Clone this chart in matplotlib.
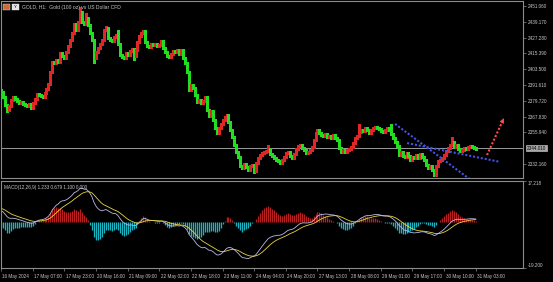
import numpy as np
import matplotlib
matplotlib.use("Agg")
import matplotlib.pyplot as plt
import matplotlib.transforms as mtransforms
from matplotlib.patches import Rectangle

plt.rcParams['font.family'] = ['Liberation Sans', 'DejaVu Sans']

# ---------------- data ----------------
symbol_title = "GOLD, H1:  Gold (100 oz) vs US Dollar CFD"
macd_title = "MACD(12,26,9) 1.233 0.679 1.100 0.000"

first_open = 2387.9
closes = [
    2386.4, 2382.6, 2376.6, 2372.8, 2375.8, 2380.3, 2382.6, 2381.1, 2379.6, 2378.1,
    2378.8, 2377.3, 2376.6, 2375.8, 2377.3, 2374.3, 2378.1, 2381.1, 2384.8, 2384.1,
    2383.3, 2382.6, 2385.6, 2388.6, 2392.4, 2401.4, 2408.9, 2408.2, 2410.4, 2408.9,
    2415.7, 2413.4, 2411.9, 2416.5, 2421.0, 2425.5, 2430.7, 2437.5, 2433.0, 2439.0,
    2446.6, 2439.0, 2437.5, 2442.0, 2436.8, 2430.7, 2425.5, 2411.9, 2416.5, 2419.5,
    2422.5, 2425.5, 2433.0, 2434.5, 2427.0, 2425.5, 2424.7, 2427.7, 2429.2, 2422.5,
    2414.2, 2412.7, 2411.9, 2415.7, 2414.2, 2417.2, 2418.7, 2413.4, 2418.0, 2424.0,
    2428.5, 2430.7, 2432.3, 2424.0, 2421.0, 2420.2, 2422.5, 2421.7, 2422.5, 2421.0,
    2421.7, 2424.7, 2419.5, 2416.5, 2413.4, 2412.7, 2414.9, 2417.2, 2416.5, 2418.0,
    2414.9, 2418.0, 2411.9, 2408.2, 2401.4, 2387.9, 2391.6, 2389.4, 2384.1, 2378.8,
    2380.3, 2378.1, 2379.6, 2382.6, 2372.8, 2368.3, 2372.0, 2365.3, 2359.2, 2355.5,
    2359.2, 2362.3, 2365.3, 2367.5, 2369.0, 2363.8, 2357.8, 2352.5, 2346.5, 2341.2,
    2337.4, 2330.7, 2329.2, 2332.2, 2329.9, 2327.7, 2330.7, 2331.4, 2326.9, 2332.9,
    2336.7, 2338.9, 2340.4, 2341.2, 2341.9, 2343.5, 2339.7, 2338.2, 2336.7, 2335.2,
    2334.4, 2332.9, 2335.2, 2337.4, 2340.4, 2341.2, 2338.2, 2336.7, 2339.7, 2343.5,
    2345.7, 2346.5, 2344.2, 2342.7, 2340.4, 2341.2, 2342.7, 2344.9, 2350.2, 2355.5,
    2357.8, 2355.5, 2354.0, 2353.2, 2354.7, 2352.5, 2353.2, 2351.7, 2354.0, 2351.7,
    2350.2, 2344.2, 2341.2, 2342.7, 2341.2, 2342.7, 2343.5, 2344.9, 2347.9, 2351.7,
    2353.2, 2356.2, 2357.8, 2357.0, 2359.2, 2357.8, 2355.5, 2357.8, 2359.2, 2360.0,
    2359.2, 2358.5, 2357.0, 2356.2, 2357.8, 2359.2, 2357.8, 2354.7, 2351.7, 2348.7,
    2345.7, 2338.9, 2341.2, 2338.2, 2337.4, 2340.4, 2338.2, 2335.2, 2337.4, 2336.7,
    2338.9, 2336.7, 2339.7, 2337.4, 2335.2, 2331.4, 2329.2, 2330.7, 2327.7, 2323.9,
    2330.7, 2334.4, 2335.2, 2336.7, 2338.9, 2341.9, 2344.2, 2346.5, 2348.7, 2344.9,
    2346.5, 2343.5, 2341.9, 2342.7, 2344.2, 2343.5, 2344.9, 2345.7, 2344.9, 2344.2,
    2344.01,
]
typical_wick = 1.0
high_overrides = {40: 2450.3, 43: 2445.8, 53: 2436.0, 59: 2433.0, 72: 2433.0,
                  135: 2346.5, 181: 2362.2, 197: 2362.2, 228: 2352.5}
low_overrides = {3: 2371.3, 47: 2408.2, 67: 2410.4, 125: 2326.9, 128: 2325.4,
                 219: 2322.9}

price_ticks = [2451.06, 2439.17, 2427.28, 2415.39, 2403.50, 2391.61,
               2379.72, 2367.83, 2355.94, 2332.16]
current_price = 2344.01

macd_range = (-19.200, 17.218)
ema_fast_seed = 2384.0
ema_slow_seed = 2379.0
signal_seed = 6.0
hist_gain = 2.0

time_labels = ['16 May 2024', '17 May 07:00', '17 May 23:00', '20 May 16:00',
               '21 May 09:00', '22 May 02:00', '22 May 18:00', '23 May 11:00',
               '24 May 04:00', '24 May 20:00', '27 May 13:00', '28 May 08:00',
               '29 May 01:00', '29 May 17:00', '30 May 10:00', '31 May 03:00']
time_label_bars = [0, 16, 32, 48, 64, 80, 96, 112, 128, 144, 160, 176,
                   192, 208, 224, 240]

# drawn objects (bar index, price)
trend_steep = [(199.2, 2362.3), (240.0, 2317.4)]
trend_flat = [(205.3, 2347.9), (252.3, 2333.7)]
arrow_up = [(245.7, 2338.9), (254.8, 2368.5)]

# ---------------- derived ----------------
closes = np.array(closes)
n = len(closes)
opens = np.concatenate([[first_open], closes[:-1]])
xs = np.arange(n)
highs = np.maximum(opens, closes) + typical_wick
lows = np.minimum(opens, closes) - typical_wick
for k, v in high_overrides.items():
    highs[k] = v
for k, v in low_overrides.items():
    lows[k] = v


def ema(values, start, span):
    a = 2.0 / (span + 1)
    out = []
    e = start
    for v in values:
        e = e + a * (v - e)
        out.append(e)
    return np.array(out)


macd = ema(closes, ema_fast_seed, 12) - ema(closes, ema_slow_seed, 26)
signal = ema(macd, signal_seed, 9)
hist = (macd - signal) * hist_gain

# ---------------- styling ----------------
W, H = 553, 282
BG = 'black'
FRAME = '#8c8c8c'
TXT = '#c8c8c8'
UP = (0.88, 0.15, 0.15)
DOWN = (0.13, 0.87, 0.13)
H_UP = (0.72, 0.12, 0.12)
H_DN = (0.10, 0.70, 0.76)
FS = 3.3

fig = plt.figure(figsize=(W / 100, H / 100), dpi=100, facecolor=BG)
ax = fig.add_axes([1 / W, 1 - 178 / H, 522 / W, 177 / H], facecolor=BG)
axm = fig.add_axes([1 / W, 1 - 268 / H, 522 / W, 87 / H], facecolor=BG, sharex=ax)

px_per_bar = 1.98
x0 = (1 - 0.5) / px_per_bar
x1 = (523 - 0.5) / px_per_bar
ax.set_xlim(x0, x1)
ax.set_ylim(2321.6, 2454.8)
axm.set_ylim(*macd_range)

for a in (ax, axm):
    for s in a.spines.values():
        s.set_color(FRAME)
        s.set_linewidth(0.8)

# candles
up = closes >= opens
col = [UP if u else DOWN for u in up]
ax.vlines(xs, lows, highs, colors=col, linewidth=0.8, antialiased=False)

# current price line
ax.axhline(current_price, color='#9a9a9a', lw=0.7, zorder=1)

# trend lines
for line in (trend_steep, trend_flat):
    (xa, ya), (xb, yb) = line
    ax.plot([xa, xb], [ya, yb], color='#4652e6', lw=1.5, ls=(0, (1, 0.9)),
            solid_capstyle='butt', zorder=5)
(xa, ya), (xb, yb) = arrow_up
ax.plot([xa, xa + (xb - xa) * 0.88], [ya, ya + (yb - ya) * 0.88], color='#ff4a4a',
        lw=1.5, ls=(0, (1, 0.9)), zorder=5)
ax.annotate('', xy=(xb, yb), xytext=(xa + (xb - xa) * 0.8, ya + (yb - ya) * 0.8),
            arrowprops=dict(arrowstyle='-|>', color='#ff4a4a', lw=0.5,
                            mutation_scale=7), zorder=6)

# price axis
ax.yaxis.tick_right()
ax.set_yticks(price_ticks)
ax.set_yticklabels([f"{v:.3f}" for v in price_ticks])
ax.tick_params(axis='y', colors=FRAME, labelcolor=TXT, labelsize=FS, length=2,
               width=0.5, pad=1.5)
ax.tick_params(axis='x', bottom=False, labelbottom=False)

# current price box
trans = mtransforms.blended_transform_factory(ax.transAxes, ax.transData)
ax.text(1.0 + 4 / 522, current_price, f"{current_price:.3f}", transform=trans,
        ha='left', va='center', fontsize=FS, color='black', clip_on=False,
        bbox=dict(boxstyle='square,pad=0.15', fc='#a8a8a8', ec='#d0d0d0', lw=0.4))

# MACD pane
hcol = [H_UP if h >= 0 else H_DN for h in hist]
axm.vlines(xs, 0, hist, colors=hcol, linewidth=0.95)
axm.plot(xs, macd, color='#b8b8ea', lw=0.6)
axm.plot(xs, signal, color='#e8d43c', lw=0.6)
axm.yaxis.tick_right()
axm.set_yticks(list(macd_range))
axm.set_yticklabels([f"{v:.3f}" for v in macd_range])
axm.tick_params(axis='y', colors=FRAME, labelcolor=TXT, labelsize=FS, length=2,
                width=0.5, pad=1.5)
for lab, va in zip(axm.get_yticklabels(), ['bottom', 'top']):
    lab.set_va(va)

axm.set_xticks(time_label_bars)
axm.set_xticklabels(time_labels)
axm.tick_params(axis='x', colors=FRAME, labelcolor=TXT, labelsize=FS, length=2.5,
                width=0.5, pad=1.5)
offset = mtransforms.ScaledTranslation(1.5 / 100, 0, fig.dpi_scale_trans)
for lab in axm.get_xticklabels():
    lab.set_ha('left')
    lab.set_transform(lab.get_transform() + offset)

# titles
fig.text(22 / W, 1 - 7 / H, symbol_title, fontsize=3.6, color=TXT, va='center')
axm.text(3 / 522, 1 - 4 / 87, macd_title, transform=axm.transAxes, fontsize=FS,
         color=TXT, va='top', ha='left')
# small toolbar icons
fig.patches.append(Rectangle((3 / W, 1 - 10 / H), 7 / W, 6 / H,
                             transform=fig.transFigure, fc='#c86a3c', ec='#e0e0e0', lw=0.3))
fig.patches.append(Rectangle((12 / W, 1 - 10 / H), 7 / W, 6 / H,
                             transform=fig.transFigure, fc='#e6e6e6', ec='#e0e0e0', lw=0.3))
fig.text(15.5 / W, 1 - 7 / H, 'Y', fontsize=3.2, color='#2040a0', ha='center',
         va='center', fontweight='bold')

fig.savefig('out.png', dpi=100, facecolor=BG)
